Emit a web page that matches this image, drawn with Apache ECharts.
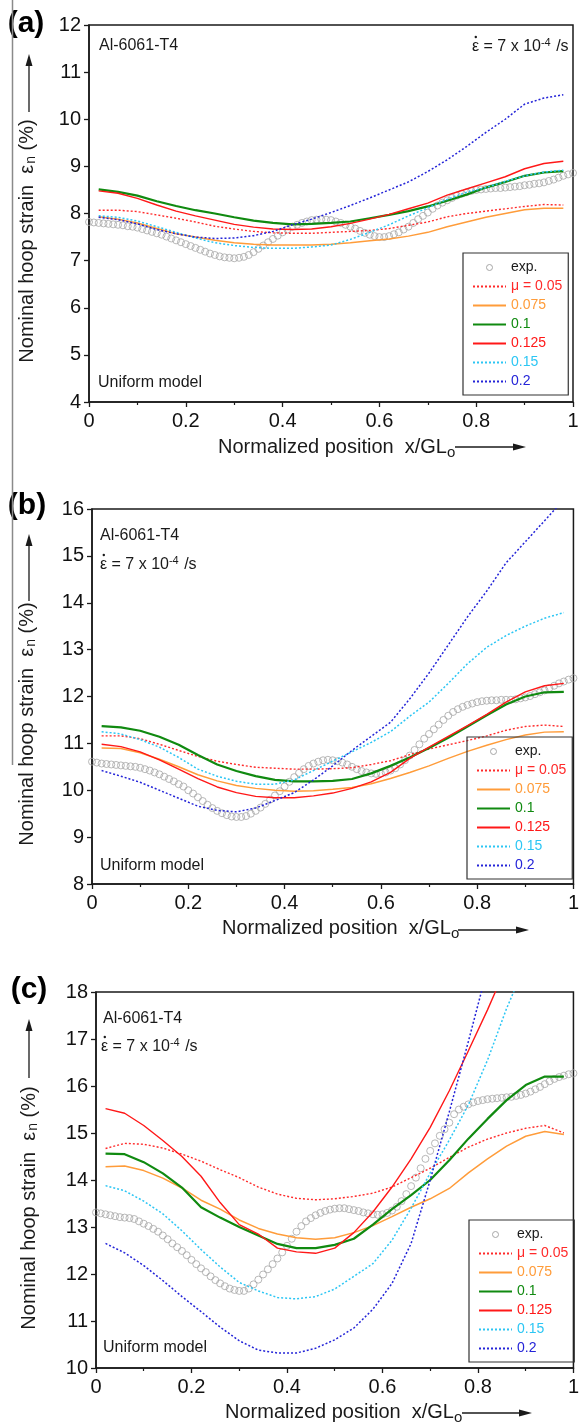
<!DOCTYPE html>
<html>
<head>
<meta charset="utf-8">
<script src="https://cdn.jsdelivr.net/npm/echarts@6/dist/echarts.min.js"></script>
<style>
html, body { margin: 0; padding: 0; background: #fff; }
#chart { width: 582px; height: 1427px; }
</style>
</head>
<body>
<div id="chart"></div>
<script>
// x positions (normalized position x/GLo)
var xModel = [0.02,0.06,0.10,0.14,0.18,0.22,0.26,0.30,0.34,0.38,0.42,0.46,0.50,0.54,0.58,0.62,0.66,0.70,0.74,0.78,0.82,0.86,0.90,0.94,0.98];
var xExp = [0,0.01,0.02,0.03,0.04,0.05,0.06,0.07,0.08,0.09,0.10,0.11,0.12,0.13,0.14,0.15,0.16,0.17,0.18,0.19,0.20,0.21,0.22,0.23,0.24,0.25,0.26,0.27,0.28,0.29,0.30,0.31,0.32,0.33,0.34,0.35,0.36,0.37,0.38,0.39,0.40,0.41,0.42,0.43,0.44,0.45,0.46,0.47,0.48,0.49,0.50,0.51,0.52,0.53,0.54,0.55,0.56,0.57,0.58,0.59,0.60,0.61,0.62,0.63,0.64,0.65,0.66,0.67,0.68,0.69,0.70,0.71,0.72,0.73,0.74,0.75,0.76,0.77,0.78,0.79,0.80,0.81,0.82,0.83,0.84,0.85,0.86,0.87,0.88,0.89,0.90,0.91,0.92,0.93,0.94,0.95,0.96,0.97,0.98,0.99,1.00];

// (a)
var aExp = [7.82,7.81,7.80,7.79,7.78,7.77,7.76,7.75,7.73,7.72,
  7.70,7.67,7.64,7.61,7.58,7.55,7.51,7.47,7.43,7.39,
  7.35,7.31,7.27,7.23,7.19,7.15,7.12,7.09,7.07,7.06,
  7.05,7.06,7.08,7.12,7.18,7.25,7.32,7.39,7.46,7.53,
  7.60,7.66,7.72,7.76,7.80,7.83,7.86,7.87,7.88,7.87,
  7.86,7.83,7.80,7.76,7.72,7.68,7.63,7.59,7.55,7.52,
  7.50,7.50,7.52,7.56,7.60,7.66,7.72,7.80,7.88,7.95,
  8.02,8.10,8.17,8.23,8.28,8.33,8.38,8.42,8.45,8.48,
  8.50,8.51,8.52,8.53,8.54,8.54,8.55,8.56,8.57,8.58,
  8.60,8.61,8.63,8.64,8.66,8.69,8.72,8.76,8.80,8.83,
  8.86];
var aMu005 = [8.07,8.07,8.04,7.97,7.90,7.82,7.73,7.67,7.62,7.59,7.58,7.58,7.60,7.62,7.64,7.68,7.75,7.82,7.93,8.00,8.05,8.10,8.15,8.19,8.18];
var aMu0075 = [7.93,7.88,7.80,7.68,7.57,7.50,7.43,7.38,7.35,7.33,7.33,7.33,7.35,7.38,7.42,7.46,7.52,7.60,7.72,7.82,7.92,8.00,8.08,8.11,8.11];
var aMu01 = [8.51,8.46,8.38,8.26,8.16,8.07,8.00,7.92,7.85,7.80,7.77,7.78,7.80,7.83,7.90,7.97,8.05,8.15,8.27,8.40,8.55,8.67,8.80,8.87,8.90];
var aMu0125 = [8.48,8.43,8.32,8.18,8.05,7.95,7.86,7.77,7.71,7.67,7.66,7.67,7.72,7.79,7.88,7.98,8.10,8.22,8.39,8.52,8.65,8.78,8.95,9.06,9.11];
var aMu015 = [7.95,7.92,7.84,7.72,7.60,7.48,7.38,7.32,7.28,7.26,7.26,7.29,7.33,7.45,7.60,7.76,7.95,8.12,8.30,8.45,8.55,8.68,8.80,8.88,8.92];
var aMu02 = [7.92,7.87,7.78,7.66,7.57,7.50,7.47,7.48,7.53,7.62,7.76,7.88,8.02,8.17,8.33,8.50,8.67,8.89,9.14,9.42,9.72,10.00,10.32,10.45,10.52];

// (b)
var bExp = [10.61,10.59,10.57,10.56,10.55,10.54,10.53,10.52,10.51,10.50,
  10.48,10.45,10.42,10.38,10.34,10.29,10.24,10.19,10.13,10.08,
  10.00,9.93,9.85,9.77,9.69,9.62,9.56,9.51,9.47,9.44,
  9.43,9.43,9.45,9.50,9.56,9.63,9.71,9.80,9.89,9.98,
  10.08,10.18,10.28,10.37,10.45,10.52,10.57,10.61,10.64,10.65,
  10.64,10.62,10.59,10.55,10.50,10.45,10.41,10.38,10.36,10.35,
  10.36,10.38,10.42,10.47,10.55,10.64,10.74,10.86,10.98,11.10,
  11.20,11.30,11.40,11.50,11.59,11.67,11.73,11.78,11.82,11.85,
  11.88,11.90,11.91,11.92,11.92,11.93,11.93,11.93,11.94,11.96,
  11.98,12.01,12.05,12.09,12.13,12.18,12.23,12.28,12.32,12.36,
  12.39];
var bMu005 = [11.16,11.16,11.10,10.98,10.85,10.72,10.62,10.55,10.49,10.47,10.45,10.45,10.46,10.48,10.55,10.63,10.76,10.88,10.97,11.06,11.16,11.28,11.36,11.39,11.36];
var bMu0075 = [10.90,10.89,10.80,10.66,10.50,10.33,10.20,10.10,10.04,10.00,9.98,9.99,10.02,10.06,10.14,10.25,10.38,10.52,10.68,10.83,10.96,11.08,11.18,11.24,11.25];
var bMu01 = [11.37,11.34,11.27,11.14,10.97,10.75,10.55,10.41,10.30,10.22,10.19,10.19,10.20,10.24,10.36,10.52,10.70,10.90,11.12,11.36,11.60,11.83,12.00,12.09,12.10];
var bMu0125 = [10.98,10.93,10.82,10.65,10.45,10.25,10.07,9.95,9.87,9.84,9.84,9.88,9.94,10.04,10.18,10.38,10.68,10.92,11.15,11.38,11.62,11.88,12.10,12.23,12.28];
var bMu015 = [11.25,11.20,11.08,10.92,10.70,10.45,10.30,10.19,10.13,10.13,10.22,10.42,10.62,10.82,11.02,11.25,11.58,11.88,12.28,12.70,13.05,13.30,13.50,13.67,13.79];
var bMu02 = [10.42,10.30,10.17,10.00,9.83,9.66,9.57,9.54,9.62,9.78,9.95,10.22,10.52,10.85,11.15,11.45,11.95,12.50,13.10,13.70,14.25,14.85,15.30,15.75,16.20];

// (c)
var cExp = [13.31,13.29,13.27,13.25,13.23,13.21,13.20,13.19,13.17,13.12,
  13.07,13.02,12.96,12.90,12.82,12.74,12.65,12.57,12.49,12.40,
  12.30,12.21,12.12,12.04,11.95,11.87,11.80,11.74,11.69,11.66,
  11.64,11.64,11.69,11.78,11.88,11.99,12.10,12.21,12.33,12.46,
  12.60,12.75,12.90,13.02,13.12,13.19,13.25,13.30,13.34,13.37,
  13.39,13.40,13.40,13.38,13.36,13.34,13.31,13.29,13.27,13.26,
  13.27,13.30,13.35,13.43,13.55,13.70,13.87,14.05,14.25,14.45,
  14.62,14.78,14.94,15.08,15.22,15.40,15.50,15.56,15.61,15.65,
  15.68,15.70,15.72,15.73,15.74,15.75,15.76,15.77,15.79,15.81,
  15.84,15.88,15.93,15.98,16.04,16.10,16.15,16.19,16.22,16.25,
  16.27];
var cMu005 = [14.67,14.78,14.76,14.68,14.55,14.40,14.22,14.05,13.85,13.70,13.61,13.58,13.60,13.65,13.72,13.85,14.05,14.25,14.48,14.70,14.87,15.00,15.10,15.16,15.00];
var cMu0075 = [14.28,14.30,14.20,14.04,13.83,13.57,13.38,13.15,12.97,12.85,12.77,12.74,12.77,12.88,13.03,13.22,13.42,13.60,13.82,14.15,14.45,14.72,14.93,15.03,14.97];
var cMu01 = [14.56,14.55,14.38,14.14,13.84,13.42,13.20,13.00,12.82,12.64,12.55,12.55,12.62,12.75,13.05,13.38,13.68,14.00,14.42,14.88,15.30,15.70,16.02,16.20,16.20];
var cMu0125 = [15.52,15.42,15.16,14.84,14.50,14.08,13.52,13.05,12.85,12.55,12.47,12.44,12.55,12.88,13.32,13.85,14.45,15.12,15.90,16.75,17.62,18.55];
var cMu015 = [13.88,13.77,13.55,13.28,12.92,12.52,12.15,11.82,11.64,11.50,11.47,11.52,11.68,11.95,12.22,12.72,13.40,14.15,14.85,15.60,16.55,17.65,18.60];
var cMu02 = [12.65,12.45,12.18,11.86,11.52,11.20,10.87,10.58,10.38,10.32,10.32,10.42,10.60,10.85,11.25,11.80,12.65,14.00,15.45,16.95,18.50];

var seriesNames = ['μ = 0.05', '0.075', '0.1', '0.125', '0.15', '0.2'];
var seriesColors = ['#ff2a2a', '#ff9c3a', '#108a10', '#ff1818', '#2cc6f4', '#2424d8'];
var seriesDash = [[2, 2], 'solid', 'solid', 'solid', [2, 2], [2, 2]];
var seriesWidth = [1.4, 1.5, 2.2, 1.4, 1.5, 1.5];

var panels = [
  { exp: aExp, models: [aMu005, aMu0075, aMu01, aMu0125, aMu015, aMu02], yMin: 4, yMax: 12 },
  { exp: bExp, models: [bMu005, bMu0075, bMu01, bMu0125, bMu015, bMu02], yMin: 8, yMax: 16 },
  { exp: cExp, models: [cMu005, cMu0075, cMu01, cMu0125, cMu015, cMu02], yMin: 10, yMax: 18 }
];

var font = 'Liberation Sans, Arial, Helvetica, sans-serif';
var ink = '#1a1a1a';
var expGray = '#a6a6a6';

// layout of the three plot boxes
var boxes = [
  { left: 89, top: 25, width: 484, height: 377 },
  { left: 92, top: 509, width: 484, height: 375 },
  { left: 96, top: 992, width: 482, height: 376 }
];
var legendPos = [
  { left: 463, top: 253 },
  { left: 467, top: 737 },
  { left: 469, top: 1220 }
];

function pairs(xs, ys) {
  return ys.map(function (y, i) { return [xs[i], y]; });
}

var grid = [], xAxis = [], yAxis = [], series = [], legend = [];

panels.forEach(function (p, i) {
  grid.push({
    left: boxes[i].left, top: boxes[i].top, width: boxes[i].width, height: boxes[i].height,
    show: true, borderColor: ink, borderWidth: 1.5, backgroundColor: 'transparent'
  });
  xAxis.push({
    gridIndex: i, type: 'value', min: 0, max: 1, interval: 0.2,
    axisLine: { show: true, onZero: false, lineStyle: { color: ink, width: 1.5 } },
    axisTick: { show: true, length: 5, lineStyle: { color: ink, width: 1.3 } },
    minorTick: { show: true, splitNumber: 2, length: 3, lineStyle: { color: ink, width: 1.2 } },
    splitLine: { show: false },
    axisLabel: { fontSize: 20, color: '#111', margin: 9, fontFamily: font }
  });
  yAxis.push({
    gridIndex: i, type: 'value', min: p.yMin, max: p.yMax, interval: 1,
    axisLine: { show: true, onZero: false, lineStyle: { color: ink, width: 1.5 } },
    axisTick: { show: true, length: 5, lineStyle: { color: ink, width: 1.3 } },
    splitLine: { show: false },
    axisLabel: { fontSize: 20, color: '#111', margin: 8, fontFamily: font }
  });
  series.push({
    type: 'scatter', name: 'exp.', xAxisIndex: i, yAxisIndex: i,
    data: pairs(xExp, p.exp), symbol: 'circle', symbolSize: 7,
    itemStyle: { color: 'rgba(255,255,255,0)', borderColor: expGray, borderWidth: 1 },
    z: 2, silent: true
  });
  p.models.forEach(function (ys, k) {
    series.push({
      type: 'line', name: seriesNames[k], xAxisIndex: i, yAxisIndex: i,
      data: pairs(xModel, ys), symbol: 'none', showSymbol: false, clip: true,
      lineStyle: { color: seriesColors[k], width: seriesWidth[k], type: seriesDash[k] },
      itemStyle: { color: seriesColors[k] },
      z: 3, silent: true
    });
  });
  legend.push({
    left: legendPos[i].left, top: legendPos[i].top, orient: 'vertical',
    itemWidth: 33, itemHeight: 6, itemGap: 0, padding: [5, 6, 4, 9],
    borderColor: '#333', borderWidth: 1.2, selectedMode: false,
    itemStyle: { opacity: 0 },
    textStyle: { fontSize: 14, fontFamily: font, lineHeight: 19 },
    data: [{ name: 'exp.', textStyle: { color: ink },
             itemStyle: { opacity: 1, color: 'rgba(255,255,255,0)', borderColor: expGray, borderWidth: 1 } }]
      .concat(seriesNames.map(function (n, k) {
        return { name: n, textStyle: { color: seriesColors[k] } };
      }))
  });
});

// text and arrows around the plots
var graphic = [];
var richY = {
  t: { fontSize: 20, fontFamily: font, fill: ink },
  s: { fontSize: 14, fontFamily: font, fill: ink, padding: [9, 0, 0, 1] }
};
var richX = {
  t: { fontSize: 20, fontFamily: font, fill: ink },
  s: { fontSize: 15, fontFamily: font, fill: ink, padding: [12, 0, 0, 0] }
};
var richRate = {
  t: { fontSize: 16, fontFamily: font, fill: ink },
  sup: { fontSize: 11, fontFamily: font, fill: ink, padding: [0, 1, 9, 0] }
};
var rateText = '{t|\u03b5 = 7 x 10}{sup|-4}{t| /s}';

var labels = ['(a)', '(b)', '(c)'];
var labelPos = [[26, 24], [27, 506], [29, 990]];
var yTitleCenter = [[27, 241], [27, 724], [29, 1208]];
var yArrow = [[29, 54, 112], [29, 534, 601], [29, 1019, 1078]];
var xTitleStart = [[218, 447], [222, 928], [225, 1412]];
var xArrow = [[455, 526, 447], [458, 529, 930], [462, 532, 1413]];
var matPos = [[99, 46], [100, 536], [103, 1019]];
var ratePos = [[472, 47], [100, 565], [101, 1047]];
var unifPos = [[98, 383], [100, 866], [103, 1348]];

for (var i = 0; i < 3; i++) {
  graphic.push({ type: 'text', x: labelPos[i][0], y: labelPos[i][1],
    style: { text: labels[i], font: 'bold 30px ' + font, fill: '#000', align: 'center', verticalAlign: 'middle' } });
  graphic.push({ type: 'text', x: yTitleCenter[i][0], y: yTitleCenter[i][1], rotation: Math.PI / 2,
    style: { text: '{t|Nominal hoop strain  \u03b5}{s|n}{t| (%)}', rich: richY, align: 'center', verticalAlign: 'middle' } });
  graphic.push({ type: 'line', shape: { x1: yArrow[i][0], y1: yArrow[i][2], x2: yArrow[i][0], y2: yArrow[i][1] + 8 },
    style: { stroke: ink, lineWidth: 1.3 } });
  graphic.push({ type: 'polygon', shape: { points: [[yArrow[i][0], yArrow[i][1]], [yArrow[i][0] - 3.5, yArrow[i][1] + 12], [yArrow[i][0] + 3.5, yArrow[i][1] + 12]] },
    style: { fill: ink } });
  graphic.push({ type: 'text', x: xTitleStart[i][0], y: xTitleStart[i][1],
    style: { text: '{t|Normalized position  x/GL}{s|o}', rich: richX, align: 'left', verticalAlign: 'middle' } });
  graphic.push({ type: 'line', shape: { x1: xArrow[i][0], y1: xArrow[i][2], x2: xArrow[i][1] - 8, y2: xArrow[i][2] },
    style: { stroke: ink, lineWidth: 1.3 } });
  graphic.push({ type: 'polygon', shape: { points: [[xArrow[i][1], xArrow[i][2]], [xArrow[i][1] - 13, xArrow[i][2] - 3.5], [xArrow[i][1] - 13, xArrow[i][2] + 3.5]] },
    style: { fill: ink } });
  graphic.push({ type: 'text', x: matPos[i][0], y: matPos[i][1],
    style: { text: 'Al-6061-T4', font: '16px ' + font, fill: ink, align: 'left', verticalAlign: 'middle' } });
  graphic.push({ type: 'text', x: ratePos[i][0], y: ratePos[i][1],
    style: { text: rateText, rich: richRate, align: 'left', verticalAlign: 'middle' } });
  // dot over the epsilon (strain rate)
  graphic.push({ type: 'circle', shape: { cx: ratePos[i][0] + 3.8, cy: ratePos[i][1] - 10, r: 1.2 },
    style: { fill: ink } });
  graphic.push({ type: 'text', x: unifPos[i][0], y: unifPos[i][1],
    style: { text: 'Uniform model', font: '16px ' + font, fill: ink, align: 'left', verticalAlign: 'middle' } });
}
// page border line at the left
graphic.push({ type: 'line', shape: { x1: 12.5, y1: 0, x2: 12.5, y2: 765 }, style: { stroke: '#8a8a8a', lineWidth: 1.5 } });

var chart = echarts.init(document.getElementById('chart'), null, { renderer: 'canvas' });
chart.setOption({
  animation: false,
  backgroundColor: '#fff',
  grid: grid,
  xAxis: xAxis,
  yAxis: yAxis,
  legend: legend,
  series: series,
  graphic: graphic
});
</script>
</body>
</html>
